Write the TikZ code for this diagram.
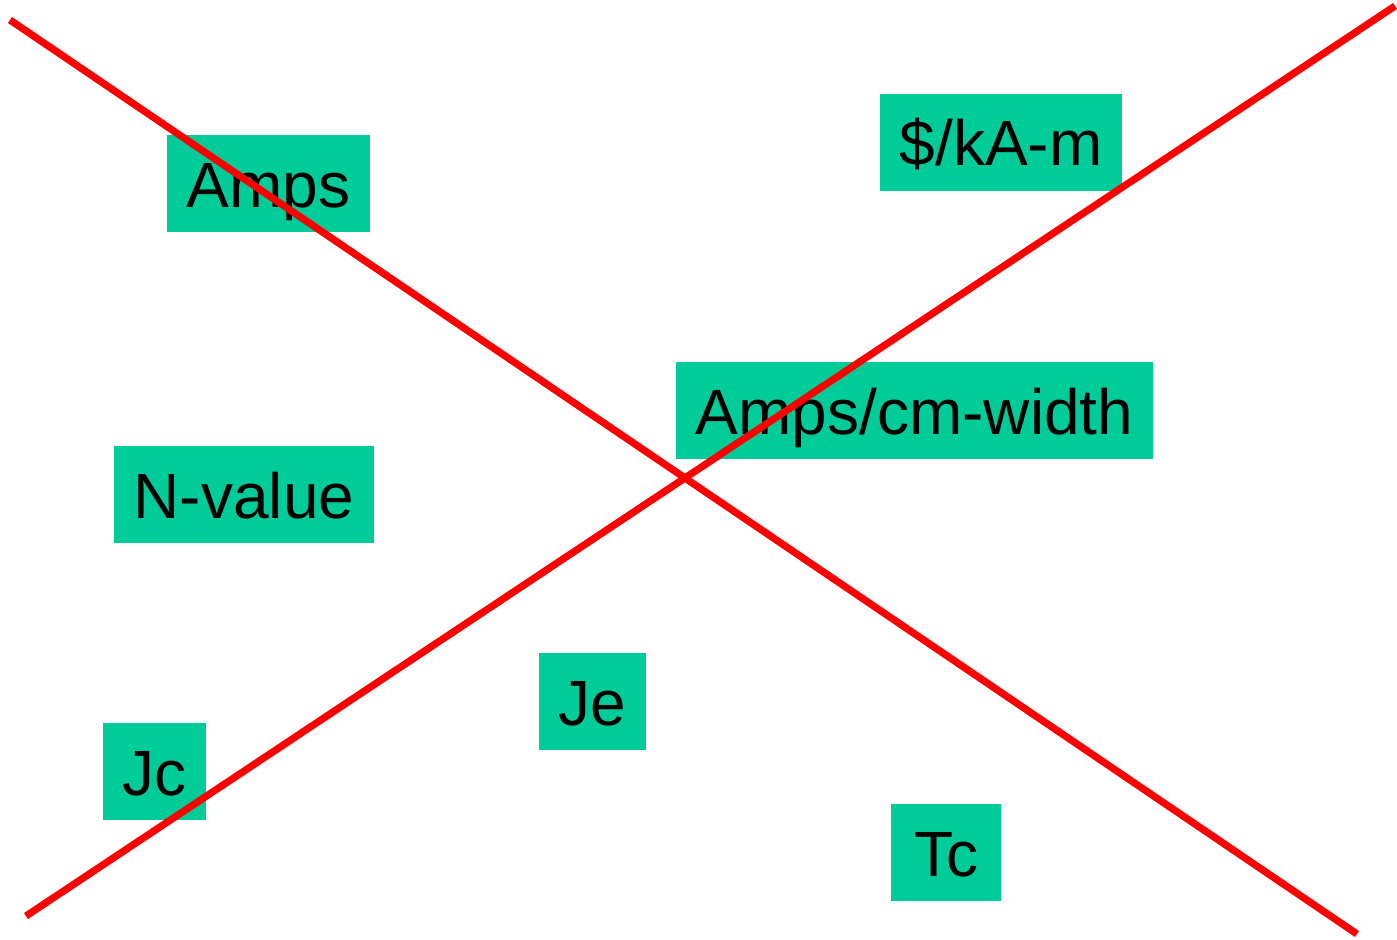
\documentclass[tikz,border=0pt]{standalone}
\usepackage{fontspec}
\setmainfont{Liberation Sans}
\definecolor{boxgreen}{HTML}{00CC99}
\definecolor{xred}{HTML}{FF0000}
\begin{document}
\begin{tikzpicture}[x=0.5pt,y=-0.5pt,
  lbl/.style={fill=boxgreen,inner sep=0pt,minimum height=48.5pt,text height=25pt,text depth=1.5pt,font=\fontsize{32}{38}\selectfont,text=black},
  cross/.style={draw=xred,line width=3.6pt}]
\useasboundingbox (0,0) rectangle (1397,939);
\node[lbl,minimum width=101.5pt] (amps) at (268.5,183.5) {Amps};
\node[lbl,minimum width=121pt] (cost) at (1001,142) {\$/kA-m};
\node[lbl,minimum width=238.5pt] (width) at (914.5,410.5) {Amps/cm-width};
\node[lbl,minimum width=130pt] (nval) at (244,494.5) {N-value};
\node[lbl,minimum width=53.5pt] (je) at (592.5,701.5) {Je};
\node[lbl,minimum width=51.5pt] (jc) at (154.5,771.5) {Jc};
\node[lbl,minimum width=55pt] (tc) at (946,852.5) {Tc};
\coordinate (a1) at (10,20);
\coordinate (a2) at (1357,934);
\coordinate (b1) at (26,916);
\coordinate (b2) at (1395,6);
\draw[cross] (a1) -- (a2);
\draw[cross] (b1) -- (b2);
\end{tikzpicture}
\end{document}
